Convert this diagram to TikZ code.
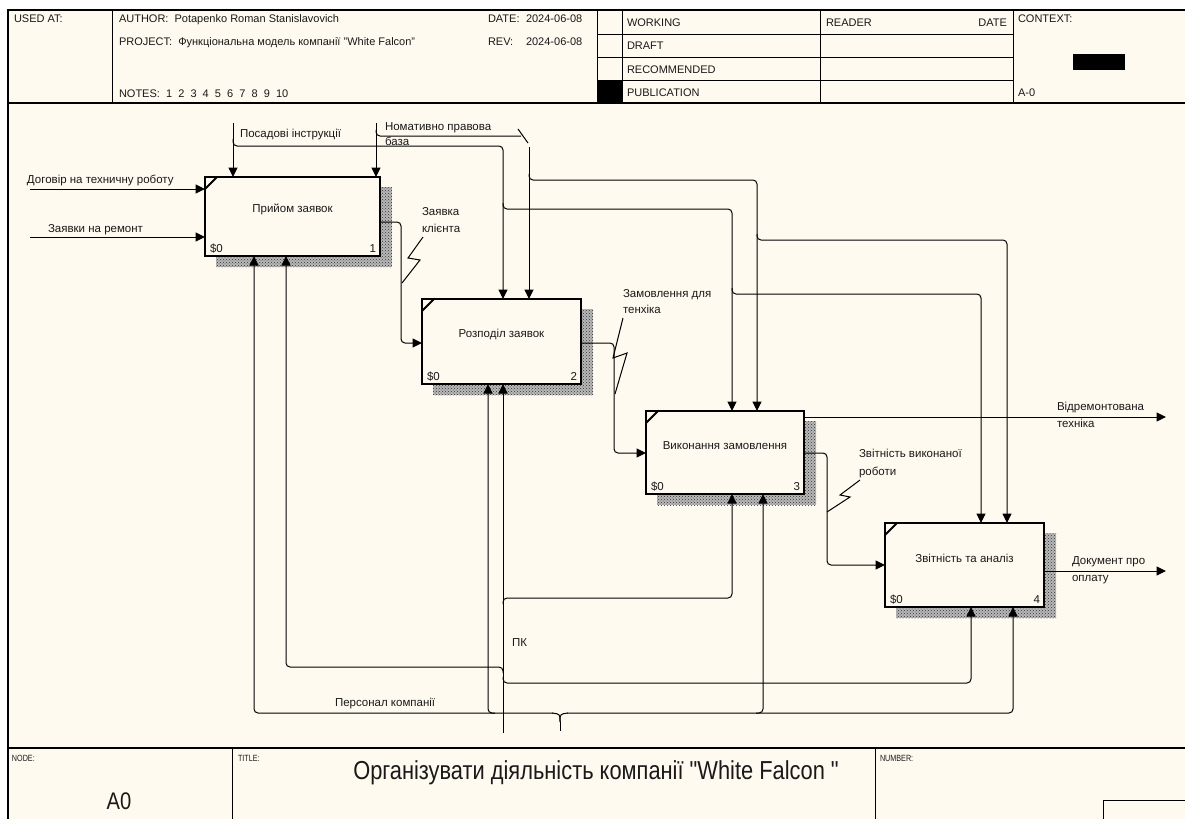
\documentclass[tikz,border=0pt]{standalone}
\usepackage{fontspec}
\setmainfont{Liberation Sans}
\newfontfamily\titlefont[FakeStretch=0.84]{Liberation Sans}
\newfontfamily\narrowfont[FakeStretch=0.8]{Liberation Sans}
\usetikzlibrary{arrows.meta,patterns}
\definecolor{paper}{RGB}{255,250,240}
\definecolor{ink}{RGB}{25,25,25}
\begin{document}
\begin{tikzpicture}[x=1pt,y=-1pt,
  every node/.style={inner sep=0pt,outer sep=0pt,font=\fontsize{11.5}{13}\selectfont,text=ink},
  gridline/.style={line width=1pt,draw=black},
  func/.style={draw=black,line width=2.4pt,fill=paper,anchor=north west},
  shade/.style={fill=black!28,postaction={pattern=crosshatch dots,pattern color=black!80}},
  conn/.style={line width=1pt,rounded corners=4pt},
  arr/.style={conn,-{Triangle[length=9.5pt,width=9pt]}},
  lbl/.style={anchor=base west},
  cornermark/.style={line width=2pt},
  zig/.style={line width=1pt},
  hdr/.style={anchor=base west,font=\fontsize{11}{12}\selectfont},
]
\useasboundingbox (0,0) rectangle (1185,819);
\fill[white] (0,0) rectangle (1185,819);
\fill[paper] (8,10) rectangle (1185,819);

% ---------- frame / header ----------
\draw[gridline,line width=1.3pt] (1185,10) -- (8,10) -- (8,819);
\draw[gridline,line width=1.3pt] (8,103) -- (1185,103);
\draw[gridline] (112,10) -- (112,103);
\draw[gridline] (597,10) -- (597,103);
\draw[gridline] (622,10) -- (622,103);
\draw[gridline] (820,10) -- (820,103);
\draw[gridline] (1013,10) -- (1013,103);
\draw[gridline] (597,34) -- (1013,34);
\draw[gridline] (597,57) -- (1013,57);
\draw[gridline] (597,80) -- (1013,80);
\fill[black] (597,80) rectangle (622,103);
\fill[black] (1073,54) rectangle (1125,70);

\node[hdr] (usedat) at (14,22) {USED AT:};
\node[hdr] (author) at (119,22) {AUTHOR:\ \ Potapenko Roman Stanislavovich};
\node[hdr] (project) at (119,45) {PROJECT:\ \ Функціональна модель компанії "White Falcon"};
\node[hdr] (notes) at (119,97) {NOTES:\ \ 1\ \ 2\ \ 3\ \ 4\ \ 5\ \ 6\ \ 7\ \ 8\ \ 9\ \ 10};
\node[hdr] (date) at (488,22) {DATE:};
\node[hdr] (dateval) at (526,22) {2024-06-08};
\node[hdr] (rev) at (488,45) {REV:};
\node[hdr] (revval) at (526,45) {2024-06-08};
\node[hdr] (working) at (627,26) {WORKING};
\node[hdr] (draft) at (627,49) {DRAFT};
\node[hdr] (recom) at (627,73) {RECOMMENDED};
\node[hdr] (publ) at (627,96) {PUBLICATION};
\node[hdr] (reader) at (826,26) {READER};
\node[hdr,anchor=base east] (rdate) at (1007,26) {DATE};
\node[hdr] (context) at (1018,22) {CONTEXT:};
\node[hdr] (ctxnum) at (1018,96) {A-0};

% ---------- footer ----------
\draw[gridline,line width=1.3pt] (8,748) -- (1185,748);
\draw[gridline] (232,748) -- (232,819);
\draw[gridline] (875,748) -- (875,819);
\draw[gridline] (1103,819) -- (1103,800) -- (1185,800);
\node[anchor=base west,font=\narrowfont\fontsize{9}{10}\selectfont] (nodelbl) at (12,761) {NODE:};
\node[anchor=base west,font=\narrowfont\fontsize{9}{10}\selectfont] (titlelbl) at (238,761) {TITLE:};
\node[anchor=base west,font=\narrowfont\fontsize{9}{10}\selectfont] (numlbl) at (880,761) {NUMBER:};
\node[font=\titlefont\fontsize{24}{26}\selectfont] (nodeval) at (119,801) {A0};
\node[font=\titlefont\fontsize{26}{30}\selectfont] (title) at (596,773) {Організувати діяльність компанії "White Falcon "};

% ---------- shadows ----------
\fill[shade] (216,187) rectangle (392,267);
\fill[shade] (433,309) rectangle (593,395);
\fill[shade] (657,421) rectangle (816,505);
\fill[shade] (896,533) rectangle (1056,618);

% ---------- activity boxes ----------
\node[func,minimum width=175pt,minimum height=79pt] (b1) at (205,177) {};
\node[func,minimum width=159pt,minimum height=85pt] (b2) at (422,299) {};
\node[func,minimum width=158pt,minimum height=83pt] (b3) at (646,411) {};
\node[func,minimum width=159pt,minimum height=84pt] (b4) at (885,523) {};

\foreach \b/\n/\t in {b1/1/Прийом заявок,b2/2/Розподіл заявок,b3/3/Виконання замовлення,b4/4/Звітність та аналіз}{
  \draw[cornermark] ([yshift=-12pt]\b.north west) -- ([xshift=12pt]\b.north west);
  \node (\b-name) at ([yshift=7pt]\b.center) {\t};
  \node[anchor=base west] (\b-cost) at ([xshift=5pt,yshift=4pt]\b.south west) {\$0};
  \node[anchor=base east] (\b-num) at ([xshift=-4pt,yshift=4pt]\b.south east) {\n};
}

% ---------- inputs ----------
\coordinate (in1) at (30,189);
\coordinate (in2) at (30,237);
\draw[arr] (in1) -- ([yshift=-12pt]b1.north west);
\draw[arr] (in2) -- ([yshift=-60pt]b1.north west);
\node[lbl] (lin1) at (27,183) {Договір на техничну роботу};
\node[lbl] (lin2) at (48,232) {Заявки на ремонт};

% ---------- controls ----------
\coordinate (ctl1) at (233,123);
\coordinate (ctl2) at (376,123);
\draw[arr] (ctl1) -- ([xshift=28pt]b1.north west);
\draw[arr] (ctl2) -- ([xshift=171pt]b1.north west);
\node[lbl] (lctl1) at (240,137) {Посадові інструкції};
\node[lbl] (lctl2a) at (385,130) {Номативно правова};
\node[lbl] (lctl2b) at (385,145) {база};

\draw[arr] (233,139) -- (233,146) -| ([xshift=81pt]b2.north west);
\draw[conn] (376,130) -- (376,136) -- (521,136);
\draw[zig] (518,129) -- (528,143);
\coordinate (nomdown) at (529,147);
\draw[arr] (nomdown) -- ([xshift=107pt]b2.north west);

\draw[arr] (503,203) -- (503,209) -| ([xshift=86pt]b3.north west);
\draw[arr] (529,174) -- (529,180) -| ([xshift=111pt]b3.north west);
\draw[arr] (757,234) -- (757,240) -| ([xshift=122pt]b4.north west);
\draw[arr] (732,288) -- (732,294) -| ([xshift=96pt]b4.north west);

% ---------- outputs ----------
\draw[arr] ([yshift=-45pt]b1.north east) -| (401,343) -- ([yshift=-44pt]b2.north west);
\draw[zig] (423,237) -- (408,258) -- (420,260) -- (402,283);
\node[lbl] (lo1a) at (422,215) {Заявка};
\node[lbl] (lo1b) at (422,232) {клієнта};

\draw[arr] ([yshift=-44pt]b2.north east) -| (614,453) -- ([yshift=-42pt]b3.north west);
\draw[zig] (623,318) -- (613,358) -- (627,353) -- (615,394);
\node[lbl] (lo2a) at (623,297) {Замовлення для};
\node[lbl] (lo2b) at (623,313) {тенхіка};

\coordinate (out3) at (1166,417);
\draw[arr] ([yshift=-6pt]b3.north east) -- (out3);
\node[lbl] (lo3a) at (1057,410) {Відремонтована};
\node[lbl] (lo3b) at (1057,427) {техніка};

\draw[arr] ([yshift=-42pt]b3.north east) -| (827,565) -- ([yshift=-42pt]b4.north west);
\draw[zig] (860,480) -- (840,495) -- (850,497) -- (827,512);
\node[lbl] (lo4a) at (859,457) {Звітність виконаної};
\node[lbl] (lo4b) at (859,475) {роботи};

\coordinate (out4) at (1166,571);
\draw[arr] ([yshift=-48pt]b4.north east) -- (out4);
\node[lbl] (lo5a) at (1072,564) {Документ про};
\node[lbl] (lo5b) at (1072,581) {оплату};

% ---------- mechanisms ----------
\coordinate (pk) at (503,733);
\draw[arr] (pk) -- ([xshift=81pt]b2.south west);
\draw[arr] (503,604) -- (503,598) -| ([xshift=86pt]b3.south west);
\draw[arr] (503,673) -- (503,667) -| ([xshift=81pt]b1.south west);
\draw[arr] (503,677) -- (503,683) -| ([xshift=86pt]b4.south west);
\node[lbl] (lpk) at (512,646) {ПК};

\coordinate (pers) at (560,731);
\draw[conn] (pers) -- (560,722);
\draw[line width=1pt] (560,722) .. controls (560,714) .. (552,713);
\draw[line width=1pt] (560,722) .. controls (560,714) .. (568,713);
\draw[arr] (553,713) -| ([xshift=49pt]b1.south west);
\draw[arr] (495,713) -- (488,713) -- ([xshift=66pt]b2.south west);
\draw[arr] (567,713) -| ([xshift=128pt]b4.south west);
\draw[arr] (756,713) -- (763,713) -- ([xshift=117pt]b3.south west);
\node[lbl] (lpers) at (335,706) {Персонал компанії};
\end{tikzpicture}
\end{document}
